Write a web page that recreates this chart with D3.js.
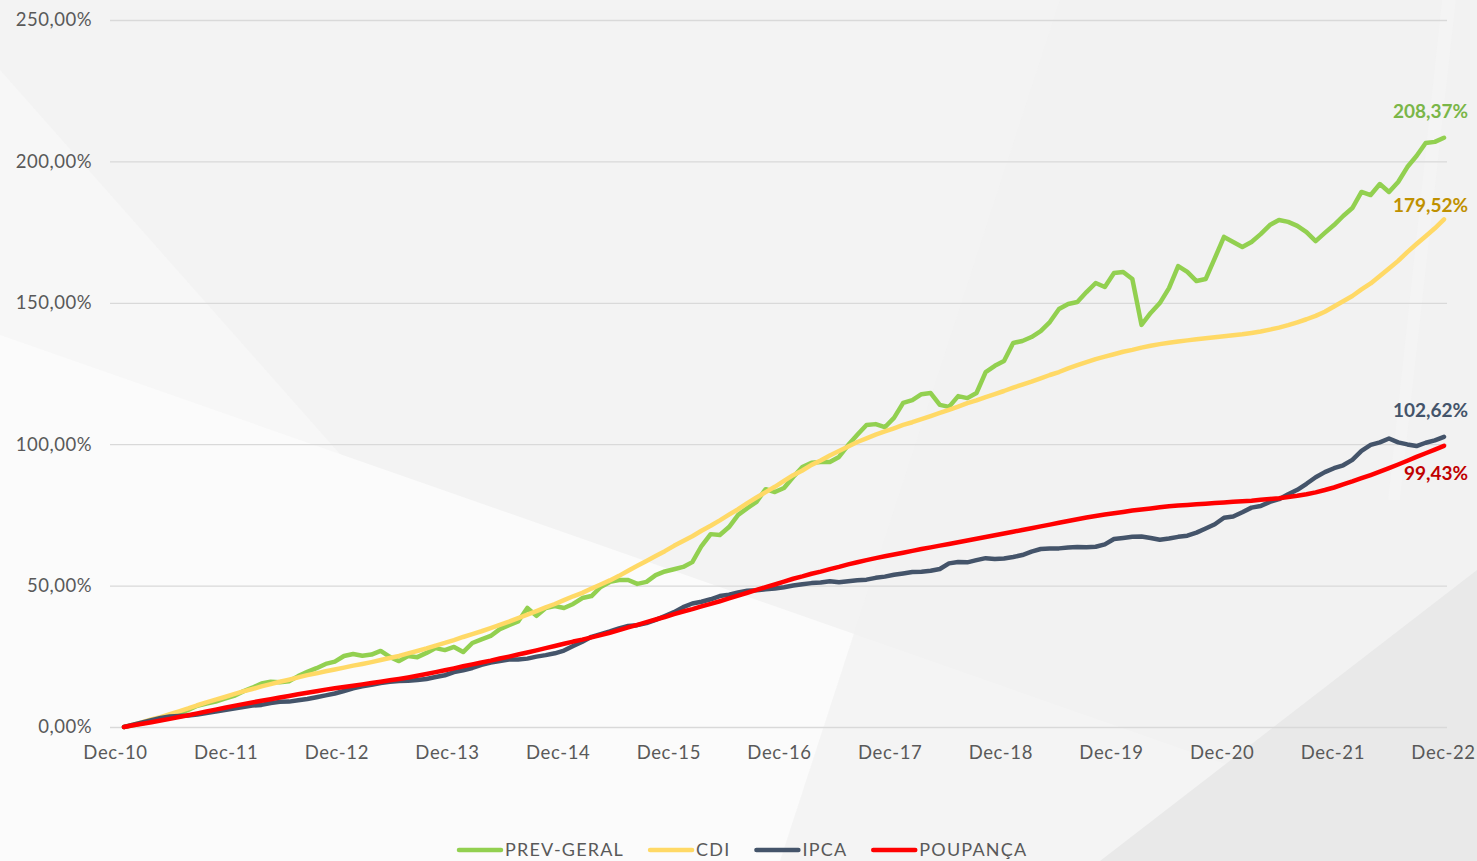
<!DOCTYPE html>
<html>
<head>
<meta charset="utf-8">
<script src="https://cdn.jsdelivr.net/npm/d3@7"></script>
<style>
  html, body { margin: 0; padding: 0; overflow: hidden; background: #f3f3f3; }
  svg { display: block; font-family: Lato, "Open Sans", sans-serif; }
</style>
</head>
<body>
<svg id="chart" width="1477" height="861"></svg>
<script>
// ---------- DATA ----------
const seriesNames = ["PREV-GERAL", "CDI", "IPCA", "POUPANÇA"];
const xTickLabels = ["Dec-10","Dec-11","Dec-12","Dec-13","Dec-14","Dec-15","Dec-16","Dec-17","Dec-18","Dec-19","Dec-20","Dec-21","Dec-22"];
const yTicks = [0, 50, 100, 150, 200, 250];
const endLabels = ["208,37%", "179,52%", "102,62%", "99,43%"];

const prevGeral = [0, 0.6,1.3,2.0,2.8,4.0,5.0,6.0,7.5,8.3,9.0,10.0,11.0,
12.6,13.9,15.4,16.0,15.8,16.2,18.0,19.5,20.8,22.3,23.1,25.1,
25.8,25.2,25.6,26.9,24.8,23.3,25.1,24.7,26.2,27.9,27.2,28.3,
26.5,29.7,31.0,32.2,34.6,36.0,37.3,42.1,39.3,42.1,42.8,42.1,
43.5,45.6,46.3,49.5,51.3,52.0,52.0,50.6,51.3,53.7,55.0,55.8,
56.6,58.3,64.0,68.2,67.9,70.7,75.0,77.4,79.6,84.1,83.1,84.5,
88.4,91.9,93.4,93.7,93.7,95.5,99.7,103.3,106.8,107.1,106.0,109.3,
114.6,115.6,117.7,118.1,113.9,113.2,117.0,116.3,118.1,125.5,127.7,129.4,
135.8,136.5,137.9,140.0,143.2,147.8,149.6,150.3,153.8,157.0,155.6,160.5,
160.9,158.4,142.2,146.4,149.9,155.2,163.0,160.9,157.7,158.4,165.8,173.3,
171.5,169.7,171.5,174.3,177.5,179.3,178.6,177.2,175.0,171.8,174.7,177.5,
180.7,183.5,189.2,188.1,192.0,189.2,192.7,198.0,201.9,206.5,206.9,208.37];

const cdi = [0, 0.86,1.71,2.64,3.51,4.53,5.53,6.55,7.69,8.70,9.66,10.60,11.61,
12.60,13.43,14.35,15.15,15.99,16.73,17.53,18.34,18.98,19.70,20.35,20.99,
21.70,22.29,22.95,23.68,24.40,25.13,26.02,26.89,27.78,28.80,29.72,30.73,
31.83,32.85,33.86,34.95,36.11,37.23,38.52,39.71,40.97,42.29,43.49,44.87,
46.22,47.42,48.95,50.37,51.84,53.45,55.26,56.98,58.72,60.48,62.18,64.06,
65.78,67.44,69.38,71.16,73.06,75.07,77.01,79.15,81.14,83.04,84.94,87.01,
89.05,90.69,92.69,94.21,96.02,97.61,99.19,100.78,102.07,103.36,104.52,105.63,
106.82,107.77,108.87,109.96,111.05,112.15,113.29,114.51,115.52,116.68,117.74,118.81,
119.99,121.07,122.11,123.26,124.47,125.52,126.81,127.94,128.99,130.09,130.96,131.82,
132.70,133.37,134.16,134.82,135.38,135.88,136.33,136.71,137.09,137.47,137.82,138.20,
138.56,138.87,139.35,139.85,140.50,141.22,142.09,143.11,144.18,145.37,146.82,148.70,
150.52,152.40,154.72,156.83,159.48,162.13,164.83,167.93,170.79,173.55,176.34,179.52];

const ipca = [0, 0.83,1.64,2.44,3.23,3.72,3.87,4.04,4.42,4.98,5.43,5.98,6.51,
7.10,7.59,7.81,8.50,8.89,8.98,9.45,9.90,10.52,11.17,11.84,12.73,
13.69,14.38,14.91,15.55,15.97,16.27,16.31,16.59,17.00,17.66,18.30,19.39,
20.04,20.87,21.99,22.80,23.37,23.86,23.87,24.18,24.89,25.41,26.05,27.04,
28.61,30.18,31.90,32.84,33.82,34.88,35.71,36.01,36.75,37.87,39.26,40.60,
42.38,43.66,44.28,45.16,46.29,46.81,47.57,48.22,48.34,48.72,48.99,49.44,
50.01,50.50,50.88,51.09,51.56,51.21,51.57,51.86,52.10,52.74,53.17,53.84,
54.29,54.78,54.92,55.26,55.88,57.85,58.37,58.23,58.99,59.70,59.37,59.61,
60.12,60.80,62.01,62.93,63.15,63.16,63.47,63.65,63.59,63.75,64.59,66.48,
66.83,67.25,67.36,66.84,66.21,66.64,67.24,67.64,68.72,70.17,71.68,74.00,
74.43,75.93,77.57,78.12,79.60,80.55,82.28,83.87,86.00,88.33,90.12,91.51,
92.54,94.48,97.63,99.73,100.67,102.01,100.64,99.92,99.34,100.51,101.34,102.62];

const poupanca = [0, 0.59,1.15,1.71,2.30,2.88,3.51,4.15,4.81,5.50,6.16,6.81,7.47,
8.10,8.68,9.26,9.84,10.44,10.99,11.55,12.10,12.64,13.21,13.67,14.14,
14.60,15.07,15.55,16.02,16.50,16.97,17.51,18.11,18.73,19.39,20.05,20.74,
21.48,22.15,22.82,23.47,24.20,24.89,25.64,26.36,27.09,27.88,28.64,29.42,
30.21,30.89,31.71,32.51,33.34,34.23,35.21,36.14,37.08,38.01,38.88,39.90,
40.83,41.67,42.64,43.54,44.47,45.47,46.45,47.47,48.46,49.44,50.40,51.42,
52.43,53.24,54.18,54.95,55.84,56.62,57.49,58.27,59.00,59.72,60.36,61.00,
61.64,62.29,62.92,63.52,64.13,64.74,65.35,65.96,66.57,67.19,67.81,68.43,
69.05,69.68,70.30,70.93,71.57,72.20,72.84,73.48,74.08,74.64,75.15,75.60,
76.06,76.52,76.91,77.29,77.68,78.08,78.31,78.54,78.75,78.97,79.18,79.40,
79.61,79.83,80.04,80.33,80.62,80.91,81.34,81.78,82.32,82.98,83.79,84.69,
85.79,86.82,87.97,89.10,90.31,91.55,92.83,94.16,95.52,96.79,98.09,99.43];

// ---------- STYLE ----------
const lineColors = ["#92D050", "#FFD966", "#44546A", "#FF0000"];
const labelColors = ["#7AB648", "#BF9000", "#44546A", "#C00000"];
const labelOffsets = [-26, -14, -26, 28];

const W = 1477, H = 861;
const svg = d3.select("#chart");

// ---------- BACKGROUND ----------
const bg = svg.append("g");
bg.append("rect").attr("width", W).attr("height", H).attr("fill", "#f3f3f3");
const bgPolys = [
  {pts: [[0,70],[0,861],[700,861]], fill: "#f7f7f7"},
  {pts: [[0,335],[0,861],[1477,861],[1477,852]], fill: "#fbfbfb"},
  {pts: [[1060,0],[1477,0],[1477,861],[780,861]], fill: "#f1f1f1", op: 0.7},
  {pts: [[1477,570],[1477,861],[1100,861]], fill: "#e9e9e9"},
  {pts: [[1442,0],[1456,0],[1400,500],[1388,500]], fill: "#f6f6f6", op: 0.5}
];
bg.selectAll("polygon").data(bgPolys).join("polygon")
  .attr("points", d => d.pts.map(p => p.join(",")).join(" "))
  .attr("fill", d => d.fill)
  .attr("opacity", d => d.op || 1);

// ---------- SCALES ----------
const x = d3.scaleLinear().domain([0, prevGeral.length - 1]).range([124, 1444]);
const xLab = d3.scalePoint().domain(xTickLabels).range([115, 1443]);
const y = d3.scaleLinear().domain([0, 250]).range([727, 20]);

// grid + y axis
const fmt = v => d3.format(".2f")(v).replace(".", ",") + "%";
const yAxis = svg.append("g").attr("transform", "translate(110,0)")
  .call(d3.axisLeft(y).tickValues(yTicks).tickSize(-1337).tickPadding(18).tickFormat(fmt));
yAxis.select(".domain").remove();
yAxis.selectAll(".tick line").attr("stroke", "#d9d9d9").attr("stroke-width", 1.3);
yAxis.selectAll(".tick text").attr("fill", "#595959").style("font-size", "18.5px")
  .style("letter-spacing", "0.5px").style("font-family", "Lato");

// x axis labels
const xAxis = svg.append("g").attr("transform", "translate(0,727)")
  .call(d3.axisBottom(xLab).tickSize(0).tickPadding(19));
xAxis.select(".domain").remove();
xAxis.selectAll(".tick text").attr("fill", "#595959").style("font-size", "18.5px")
  .style("letter-spacing", "0.6px").style("font-family", "Lato");

// ---------- LINES ----------
const allSeries = [prevGeral, cdi, ipca, poupanca];
const line = d3.line().x((d, i) => x(i)).y(d => y(d));
svg.append("g").selectAll("path").data(allSeries).join("path")
  .attr("d", d => line(d))
  .attr("fill", "none")
  .attr("stroke", (d, i) => lineColors[i])
  .attr("stroke-width", 4.5)
  .attr("stroke-linejoin", "round")
  .attr("stroke-linecap", "round");

// ---------- END LABELS ----------
svg.append("g").selectAll("text").data(allSeries).join("text")
  .attr("x", 1468)
  .attr("y", (d, i) => y(d[d.length - 1]) + labelOffsets[i])
  .attr("dy", "0.35em")
  .attr("text-anchor", "end")
  .attr("fill", (d, i) => labelColors[i])
  .style("font-size", "19px")
  .style("font-weight", "bold")
  .text((d, i) => endLabels[i]);

// ---------- LEGEND ----------
const legend = svg.append("g").attr("transform", "translate(457,850)");
let lx = 0;
seriesNames.forEach((name, i) => {
  const g = legend.append("g").attr("transform", `translate(${lx},0)`);
  g.append("line").attr("x1", 2).attr("x2", 44).attr("y1", 0).attr("y2", 0)
    .attr("stroke", lineColors[i]).attr("stroke-width", 4.5).attr("stroke-linecap", "round");
  const t = g.append("text").attr("x", 48).attr("y", 0).attr("dy", "0.36em")
    .attr("fill", "#595959").style("font-size", "18px").style("letter-spacing", "1.2px")
    .text(name);
  lx += 48 + t.node().getComputedTextLength() + 24;
});
</script>
</body>
</html>
